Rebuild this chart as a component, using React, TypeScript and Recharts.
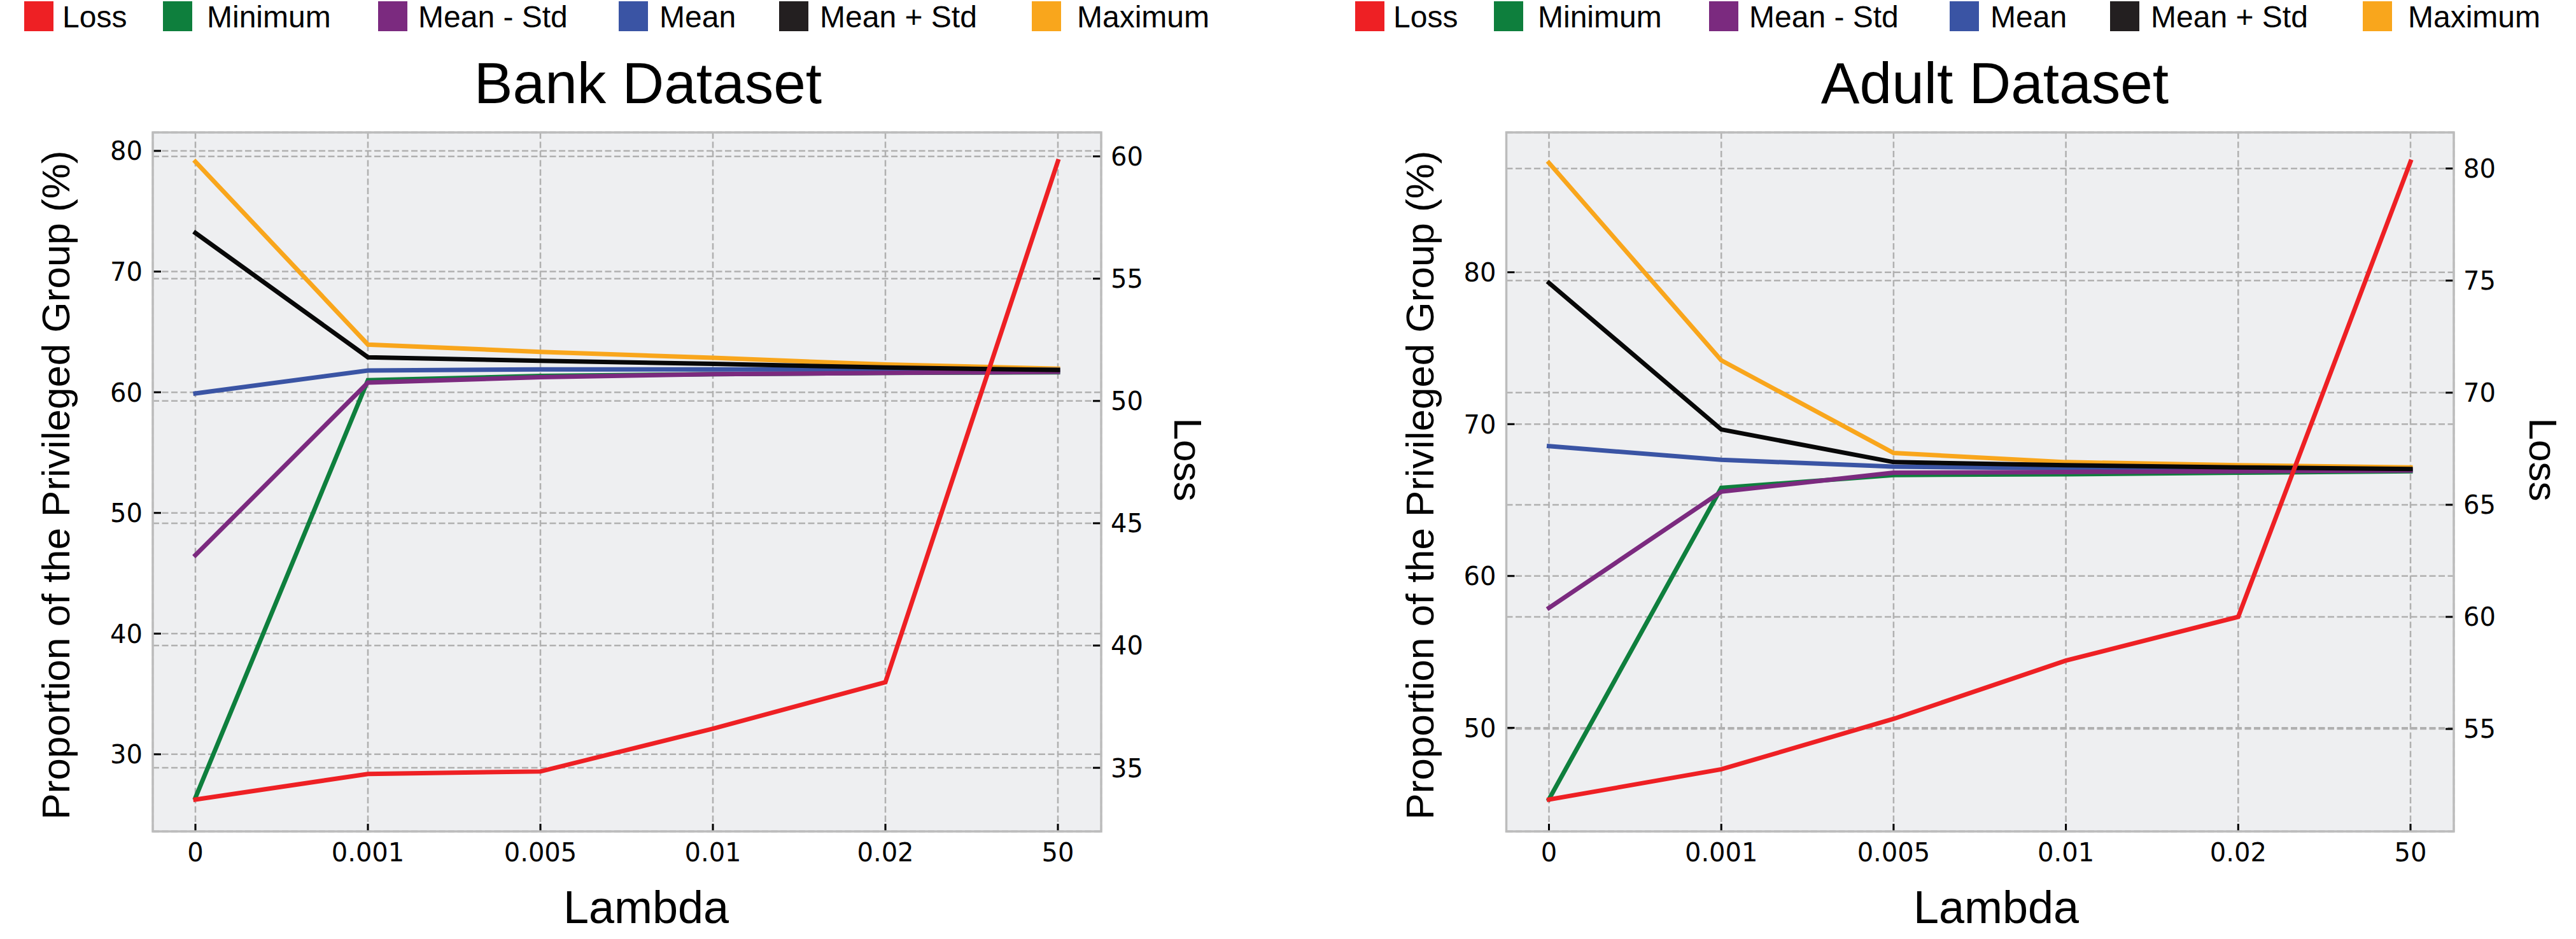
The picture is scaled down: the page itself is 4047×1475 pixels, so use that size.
import React from 'react';
import { CartesianGrid, Line, LineChart, XAxis, YAxis } from 'recharts';

// lambda values on the x axis
const lambdas = ['0', '0.001', '0.005', '0.01', '0.02', '50'];

// Bank dataset
const bankLoss = [33.7, 34.75, 34.85, 36.6, 38.5, 59.8];
const bankMin = [26.4, 61.0, 61.35, 61.5, 61.6, 61.65];
const bankMeanMinusStd = [46.5, 60.8, 61.25, 61.5, 61.6, 61.7];
const bankMean = [59.9, 61.8, 61.9, 61.9, 61.9, 61.85];
const bankMeanPlusStd = [73.2, 62.9, 62.6, 62.35, 62.05, 61.85];
const bankMax = [79.1, 63.95, 63.35, 62.85, 62.3, 61.95];

// Adult dataset
const adultLoss = [51.85, 53.2, 55.45, 58.05, 60.0, 80.3];
const adultMin = [45.3, 65.8, 66.65, 66.7, 66.8, 66.9];
const adultMeanMinusStd = [57.9, 65.55, 66.8, 66.85, 66.9, 66.95];
const adultMean = [68.55, 67.65, 67.2, 67.1, 67.05, 67.0];
const adultMeanPlusStd = [79.3, 69.65, 67.5, 67.3, 67.15, 67.05];
const adultMax = [87.2, 74.2, 68.1, 67.5, 67.3, 67.15];

const bankLeftTicks = [30, 40, 50, 60, 70, 80];
const bankRightTicks = [35, 40, 45, 50, 55, 60];
const adultLeftTicks = [50, 60, 70, 80];
const adultRightTicks = [55, 60, 65, 70, 75, 80];

const legendNames = ['Loss', 'Minimum', 'Mean - Std', 'Mean', 'Mean + Std', 'Maximum'];
const legendColors = ['#ee2024', '#0e7f3d', '#7b2a7f', '#3a54a4', '#231f20', '#f9a61c'];

const COLORS = {
  loss: '#ee2024',
  min: '#0e7f3d',
  meanMinusStd: '#7b2a7f',
  mean: '#3a54a4',
  meanPlusStd: '#080808',
  max: '#f9a61c',
};

const FIG_W = 4047;
const FIG_H = 1475;
const PLOT_TOP = 208;
const PLOT_BOTTOM = 1306;
const SANS = '"Liberation Sans", Arial, sans-serif';
const TICK_FONT = '"DejaVu Sans", sans-serif';
const GRID = '#b0b0b0';

const buildRows = (
  loss: number[],
  min: number[],
  meanMinusStd: number[],
  mean: number[],
  meanPlusStd: number[],
  max: number[],
) =>
  lambdas.map((lambda, i) => ({
    lambda,
    loss: loss[i],
    min: min[i],
    meanMinusStd: meanMinusStd[i],
    mean: mean[i],
    meanPlusStd: meanPlusStd[i],
    max: max[i],
  }));

type PanelProps = {
  rows: any[];
  chartLeft: number;
  chartWidth: number;
  plotLeft: number;
  plotRight: number;
  leftDomain: [number, number];
  leftTicks: number[];
  rightDomain: [number, number];
  rightTicks: number[];
};

const Panel = ({
  rows,
  chartLeft,
  chartWidth,
  plotLeft,
  plotRight,
  leftDomain,
  leftTicks,
  rightDomain,
  rightTicks,
}: PanelProps) => {
  const left = plotLeft - chartLeft;
  const right = plotRight - chartLeft;

  const xTick = (props: any) => (
    <g>
      <line x1={props.x} x2={props.x} y1={PLOT_BOTTOM} y2={PLOT_BOTTOM - 12} stroke="#000" strokeWidth={3} />
      <text x={props.x} y={1353} textAnchor="middle" fontFamily={TICK_FONT} fontSize={40} fill="#000">
        {props.payload.value}
      </text>
    </g>
  );

  const leftTick = (props: any) => (
    <g>
      <line x1={left} x2={left + 13} y1={props.y} y2={props.y} stroke="#000" strokeWidth={3} />
      <text x={left - 16} y={props.y} dy="0.36em" textAnchor="end" fontFamily={TICK_FONT} fontSize={40} fill="#000">
        {props.payload.value}
      </text>
    </g>
  );

  const rightTick = (props: any) => (
    <g>
      <line x1={right - 13} x2={right} y1={props.y} y2={props.y} stroke="#000" strokeWidth={3} />
      <text x={right + 15} y={props.y} dy="0.36em" textAnchor="start" fontFamily={TICK_FONT} fontSize={40} fill="#000">
        {props.payload.value}
      </text>
    </g>
  );

  const lineProps = { type: 'linear' as const, dot: false, strokeWidth: 7, strokeLinecap: 'square' as const, isAnimationActive: false };

  return (
    <div style={{ position: 'absolute', left: chartLeft, top: 0 }}>
      <LineChart
        width={chartWidth}
        height={FIG_H}
        data={rows}
        margin={{ top: PLOT_TOP, right: chartWidth - right - 150, bottom: FIG_H - PLOT_BOTTOM - 100, left: left - 150 }}
      >
        <CartesianGrid yAxisId="left" fill="#eeeff1" fillOpacity={1} stroke={GRID} strokeWidth={2.5} strokeDasharray="10 4.5" />
        <CartesianGrid yAxisId="right" vertical={false} stroke={GRID} strokeWidth={2.5} strokeDasharray="10 4.5" />
        <XAxis
          dataKey="lambda"
          scale="point"
          padding={{ left: 67, right: 68 }}
          height={100}
          interval={0}
          axisLine={false}
          tickLine={false}
          tick={xTick}
        />
        <YAxis
          yAxisId="left"
          orientation="left"
          type="number"
          width={150}
          domain={leftDomain}
          ticks={leftTicks}
          allowDataOverflow
          axisLine={false}
          tickLine={false}
          tick={leftTick}
        />
        <YAxis
          yAxisId="right"
          orientation="right"
          type="number"
          width={150}
          domain={rightDomain}
          ticks={rightTicks}
          allowDataOverflow
          axisLine={false}
          tickLine={false}
          tick={rightTick}
        />
        <Line yAxisId="left" dataKey="max" stroke={COLORS.max} {...lineProps} />
        <Line yAxisId="left" dataKey="min" stroke={COLORS.min} {...lineProps} />
        <Line yAxisId="left" dataKey="mean" stroke={COLORS.mean} {...lineProps} />
        <Line yAxisId="left" dataKey="meanMinusStd" stroke={COLORS.meanMinusStd} {...lineProps} />
        <Line yAxisId="left" dataKey="meanPlusStd" stroke={COLORS.meanPlusStd} {...lineProps} />
        <Line yAxisId="right" dataKey="loss" stroke={COLORS.loss} {...lineProps} />
      </LineChart>
    </div>
  );
};

// legend swatch / text x positions for the bank panel; adult is shifted
const legendSwatchX = [38, 256, 594, 972, 1224, 1621];
const legendTextX = [98, 325, 657, 1036, 1288, 1692];

const Legend = ({ shift }: { shift: number }) => (
  <g>
    {legendNames.map((name, i) => (
      <g key={name}>
        <rect x={legendSwatchX[i] + shift} y={2} width={46} height={47} fill={legendColors[i]} />
        <text x={legendTextX[i] + shift} y={43} fontFamily={SANS} fontSize={48} fill="#000">
          {name}
        </text>
      </g>
    ))}
  </g>
);

const panels = [
  { title: 'Bank Dataset', plotLeft: 240, plotRight: 1730, titleX: 1018, yLabelX: 109, lossLabelX: 1845, lambdaX: 1015, shift: 0 },
  { title: 'Adult Dataset', plotLeft: 2366.5, plotRight: 3855, titleX: 3134, yLabelX: 2252, lossLabelX: 3974, lambdaX: 3136, shift: 2091 },
];

export default function App() {
  const bankRows = buildRows(bankLoss, bankMin, bankMeanMinusStd, bankMean, bankMeanPlusStd, bankMax);
  const adultRows = buildRows(adultLoss, adultMin, adultMeanMinusStd, adultMean, adultMeanPlusStd, adultMax);

  return (
    <div style={{ position: 'absolute', left: 0, top: 0, width: FIG_W, height: FIG_H, background: '#fff' }}>
      <Panel
        rows={bankRows}
        chartLeft={0}
        chartWidth={2000}
        plotLeft={240}
        plotRight={1730}
        leftDomain={[23.61, 81.53]}
        leftTicks={bankLeftTicks}
        rightDomain={[32.4, 60.98]}
        rightTicks={bankRightTicks}
      />
      <Panel
        rows={adultRows}
        chartLeft={2050}
        chartWidth={1997}
        plotLeft={2366.5}
        plotRight={3855}
        leftDomain={[43.18, 89.21]}
        leftTicks={adultLeftTicks}
        rightDomain={[50.43, 81.61]}
        rightTicks={adultRightTicks}
      />
      <svg width={FIG_W} height={FIG_H} style={{ position: 'absolute', left: 0, top: 0, pointerEvents: 'none' }}>
        {panels.map((p) => (
          <g key={p.title}>
            <rect
              x={p.plotLeft}
              y={PLOT_TOP}
              width={p.plotRight - p.plotLeft}
              height={PLOT_BOTTOM - PLOT_TOP}
              fill="none"
              stroke="#bcbcbc"
              strokeWidth={3.5}
            />
            <Legend shift={p.shift} />
            <text x={p.titleX} y={162} textAnchor="middle" fontFamily={SANS} fontSize={91} fill="#000">
              {p.title}
            </text>
            <text
              x={p.yLabelX}
              y={762}
              textAnchor="middle"
              fontFamily={SANS}
              fontSize={62}
              fill="#000"
              transform={`rotate(-90 ${p.yLabelX} 762)`}
            >
              Proportion of the Privileged Group (%)
            </text>
            <text
              x={p.lossLabelX}
              y={722}
              textAnchor="middle"
              fontFamily={SANS}
              fontSize={62}
              fill="#000"
              transform={`rotate(90 ${p.lossLabelX} 722)`}
            >
              Loss
            </text>
            <text x={p.lambdaX} y={1450} textAnchor="middle" fontFamily={SANS} fontSize={72} fill="#000">
              Lambda
            </text>
          </g>
        ))}
      </svg>
    </div>
  );
}
